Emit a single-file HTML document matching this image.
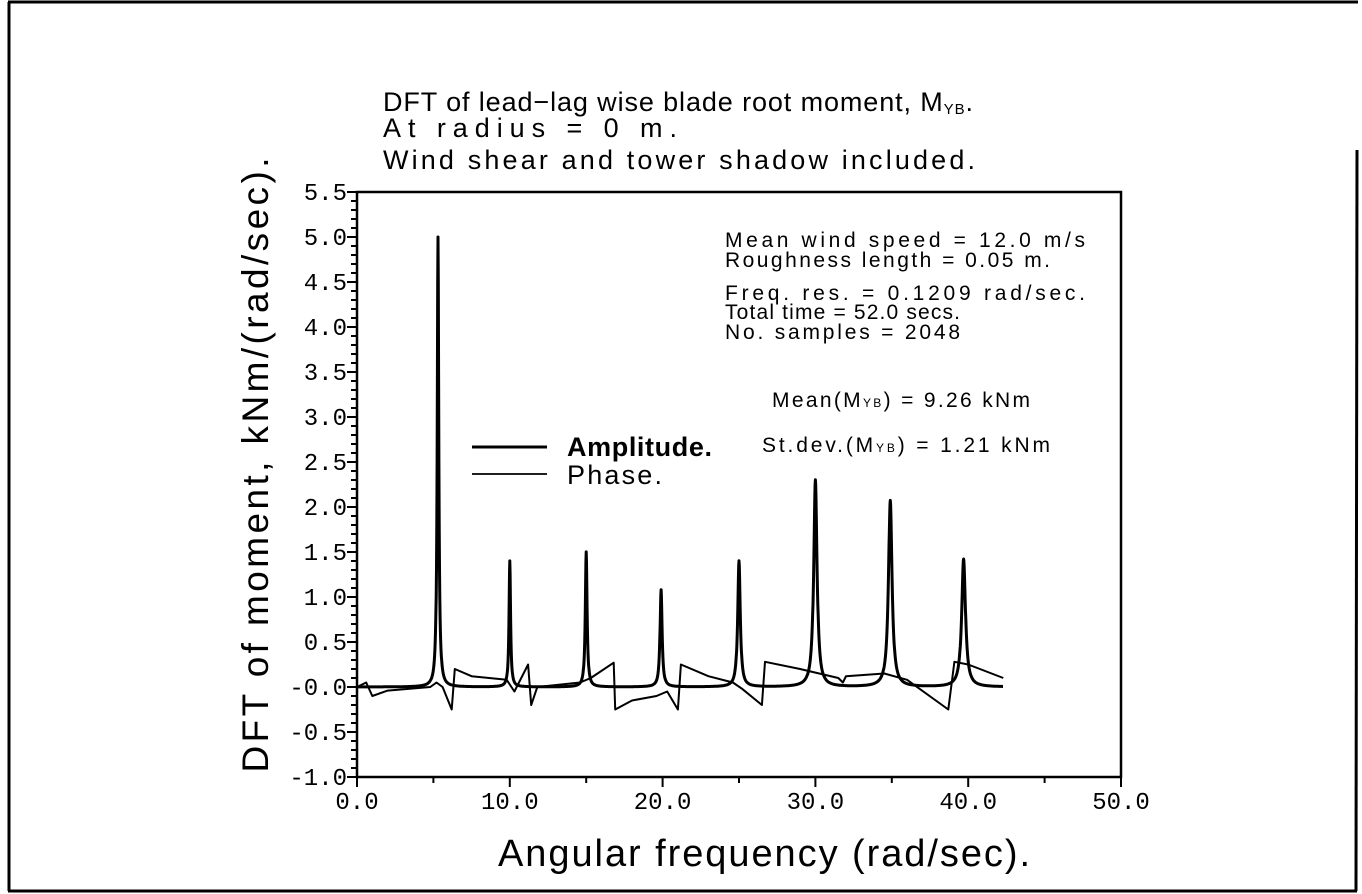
<!DOCTYPE html>
<html><head><meta charset="utf-8"><style>
html,body{margin:0;padding:0;background:#fff;}
svg{display:block}
text{font-family:"Liberation Sans",sans-serif;fill:#000}
text.t{font-size:27px}
text.tk{font-family:"Liberation Mono",monospace;font-size:24px}
text.an{font-size:21px}
</style></head><body>
<svg id="s" width="1362" height="894" viewBox="0 0 1362 894" xmlns="http://www.w3.org/2000/svg">
<g stroke="#000" fill="none">
<line x1="8" y1="2" x2="1358" y2="2" stroke-width="3"/>
<line x1="9" y1="2" x2="9" y2="891" stroke-width="3"/>
<line x1="8" y1="891" x2="1357" y2="891" stroke-width="3"/>
<line x1="1357" y1="150" x2="1356" y2="891" stroke-width="3"/>
<rect x="357" y="192" width="764" height="585" stroke-width="2.5"/>
</g>
<g id="ticks" stroke="#000" stroke-width="2"></g>
<text class="t" x="383" y="111" textLength="590" lengthAdjust="spacing">DFT of lead−lag wise blade root moment, M<tspan font-size="15" dy="3">YB</tspan><tspan dy="-3">.</tspan></text>
<text class="t" x="383" y="137" textLength="294" lengthAdjust="spacing">At radius = 0 m.</text>
<text class="t" x="383" y="169" textLength="592" lengthAdjust="spacing">Wind shear and tower shadow included.</text>
<text transform="translate(268,465) rotate(-90)" text-anchor="middle" style="font-size:37px" textLength="615" lengthAdjust="spacing">DFT of moment, kNm/(rad/sec).</text>
<text x="498" y="866" style="font-size:38px" textLength="532" lengthAdjust="spacing">Angular frequency (rad/sec).</text>
<g id="ylab"></g>
<g id="xlab"></g>
<text class="an" x="725" y="247" textLength="360" lengthAdjust="spacing">Mean wind speed = 12.0 m/s</text>
<text class="an" x="725" y="267" textLength="325" lengthAdjust="spacing">Roughness length = 0.05 m.</text>
<text class="an" x="725" y="300" textLength="360" lengthAdjust="spacing">Freq. res. = 0.1209 rad/sec.</text>
<text class="an" x="725" y="319" textLength="235" lengthAdjust="spacing">Total time = 52.0 secs.</text>
<text class="an" x="725" y="339" textLength="235" lengthAdjust="spacing">No. samples = 2048</text>
<text class="an" x="772" y="407" textLength="258" lengthAdjust="spacing">Mean(M<tspan font-size="12">YB</tspan>) = 9.26 kNm</text>
<text class="an" x="762" y="452" textLength="288" lengthAdjust="spacing">St.dev.(M<tspan font-size="12">YB</tspan>) = 1.21 kNm</text>
<line x1="472" y1="447" x2="547" y2="447" stroke="#000" stroke-width="3"/>
<line x1="472" y1="474" x2="547" y2="474" stroke="#000" stroke-width="1.8"/>
<text x="567" y="456" style="font-size:27px;font-weight:bold" textLength="145" lengthAdjust="spacing">Amplitude.</text>
<text x="567" y="484" style="font-size:27px" textLength="95" lengthAdjust="spacing">Phase.</text>
<path id="amp" fill="none" stroke="#000" stroke-width="3" stroke-linejoin="round"/>
<path id="ph" fill="none" stroke="#000" stroke-width="2" stroke-linejoin="round"/>
</svg>
<script>
var X=function(f){return 357+f*15.28},Y=function(v){return 687-v*90};
var ns="http://www.w3.org/2000/svg";
var tk=document.getElementById('ticks'),yl=document.getElementById('ylab'),xl=document.getElementById('xlab');
function ln(x1,y1,x2,y2){var l=document.createElementNS(ns,'line');l.setAttribute('x1',x1);l.setAttribute('y1',y1);l.setAttribute('x2',x2);l.setAttribute('y2',y2);tk.appendChild(l);}
function tx(g,x,y,s,anchor){var t=document.createElementNS(ns,'text');t.setAttribute('class','tk');t.setAttribute('x',x);t.setAttribute('y',y);t.setAttribute('text-anchor',anchor);t.textContent=s;g.appendChild(t);}
for(var i=0;i<=65;i++){var v=-1+i*0.1,y=Y(v);ln(357,y,(i%5==0)?347:351,y);
 if(i%5==0){var s=Math.abs(v).toFixed(1);if(v<0.001)s='-'+s;tx(yl,347,y+8,s,'end');}}
for(var f=0;f<=50;f+=5){var x=X(f);ln(x,777,x,f%10==0?787:783);
 if(f%10==0){var s=f.toFixed(1);tx(xl,x,809,s,'middle');}}
var pk=[[5.3,5.0,0.06],[10.0,1.4,0.06],[15.0,1.5,0.07],[19.9,1.08,0.08],[25.0,1.4,0.1],[30.0,2.3,0.13],[34.9,2.07,0.14],[39.7,1.42,0.15]];
var d='';for(var f=0;f<=42.3;f+=0.02){var a=0.0;for(var k=0;k<pk.length;k++){var p=pk[k],dx=f-p[0];a+=p[1]*p[2]*p[2]/(dx*dx+p[2]*p[2]);}
 a=Math.min(a,5.0);d+=(d?'L':'M')+X(f).toFixed(1)+','+Y(a).toFixed(1);}
document.getElementById('amp').setAttribute('d',d);
var P=[[0,0],[0.6,0.05],[1.0,-0.1],[2,-0.04],[4.8,0],[5.2,0.05],[5.6,0],[6.2,-0.25],[6.4,0.2],[7.5,0.12],[9.8,0.08],[10.3,-0.05],[11.2,0.25],[11.4,-0.2],[11.8,0],[14.6,0.05],[15.3,0.1],[16.8,0.27],[16.9,-0.25],[18,-0.15],[19.6,-0.1],[20.3,-0.05],[21,-0.25],[21.2,0.25],[23,0.12],[24.6,0.05],[25.2,-0.02],[26.5,-0.2],[26.7,0.28],[29,0.2],[31.5,0.1],[31.8,0.05],[32,0.12],[34.5,0.15],[36,0.08],[38.7,-0.25],[39.1,0.28],[40,0.25],[42.3,0.1]];
var e='';P.forEach(function(p){e+=(e?'L':'M')+X(p[0]).toFixed(1)+','+Y(p[1]).toFixed(1);});
document.getElementById('ph').setAttribute('d',e);
</script>
</body></html>
